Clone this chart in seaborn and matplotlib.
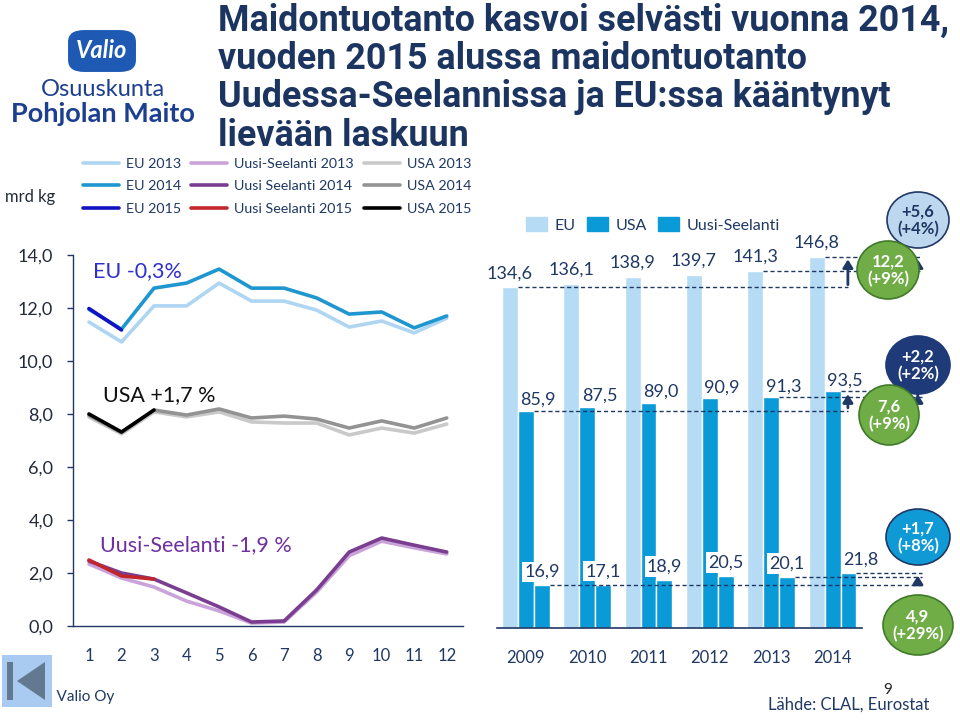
import pandas as pd
import matplotlib
matplotlib.use('Agg')
import matplotlib.pyplot as plt
from matplotlib.patches import Ellipse, Rectangle, FancyBboxPatch, Polygon
from matplotlib.lines import Line2D
from matplotlib.patches import Patch
import seaborn as sns

# Kuukausituotanto, mrd kg
months = list(range(1, 13))
eu_2013 = [11.47, 10.72, 12.08, 12.08, 12.94, 12.26, 12.26, 11.92, 11.28, 11.51, 11.06, 11.62]
eu_2014 = [11.95, 11.20, 12.75, 12.94, 13.47, 12.75, 12.75, 12.38, 11.77, 11.85, 11.25, 11.70]
eu_2015 = [11.98, 11.17]
nz_2013 = [2.34, 1.81, 1.47, 0.94, 0.57, 0.11, 0.15, 1.28, 2.65, 3.20, 2.95, 2.72]
nz_2014 = [2.45, 2.00, 1.77, 1.25, 0.72, 0.15, 0.19, 1.36, 2.79, 3.32, 3.05, 2.79]
nz_2015 = [2.49, 1.89, 1.77]
usa_2013 = [7.89, 7.25, 8.08, 7.89, 8.08, 7.70, 7.66, 7.66, 7.21, 7.47, 7.28, 7.62]
usa_2014 = [7.95, 7.30, 8.15, 7.96, 8.19, 7.85, 7.92, 7.81, 7.47, 7.74, 7.47, 7.85]
usa_2015 = [8.00, 7.32, 8.15]

# Vuosituotanto, mrd kg
years = ['2009', '2010', '2011', '2012', '2013', '2014']
eu_prod = [134.6, 136.1, 138.9, 139.7, 141.3, 146.8]
usa_prod = [85.9, 87.5, 89.0, 90.9, 91.3, 93.5]
nz_prod = [16.9, 17.1, 18.9, 20.5, 20.1, 21.8]

NAVY = '#1f3864'

sns.set_theme(style='white')
plt.rcParams['font.family'] = ['Lato', 'DejaVu Sans']
plt.rcParams['axes.edgecolor'] = NAVY


def fx(x):
    return x / 960


def fy(y):
    return 1 - y / 720


fig = plt.figure(figsize=(9.6, 7.2), dpi=100)

# --- vasen kuva: kuukausittain ---
ax = fig.add_axes([fx(72.7), fy(626), (463 - 72.7) / 960, (626 - 255) / 720])
series = [
    ('EU 2013', eu_2013, '#aed6f3'),
    ('EU 2014', eu_2014, '#1e96cf'),
    ('EU 2015', eu_2015, '#1212c4'),
    ('Uusi-Seelanti 2013', nz_2013, '#c9a3d9'),
    ('Uusi Seelanti 2014', nz_2014, '#7a3d8f'),
    ('Uusi Seelanti 2015', nz_2015, '#c0262c'),
    ('USA 2013', usa_2013, '#c9c9c9'),
    ('USA 2014', usa_2014, '#939393'),
    ('USA 2015', usa_2015, '#000000'),
]
# piirretään vanhin vuosi ensin
for year in ['2013', '2014', '2015']:
    for name, vals, col in series:
        if name.endswith(year):
            sns.lineplot(x=months[:len(vals)], y=vals, color=col, lw=2.6, ax=ax)

ax.set_xlim(0.5, 12.5)
ax.set_ylim(0, 14)
ax.set_yticks([0, 2, 4, 6, 8, 10, 12, 14])
ax.set_yticklabels([f'{v:.1f}'.replace('.', ',') for v in range(0, 16, 2)])
ax.set_xticks(months)
ax.tick_params(axis='x', length=0, pad=16, labelsize=12, labelcolor=NAVY)
ax.tick_params(axis='y', length=4, width=1, color=NAVY, direction='out', left=True,
               pad=10, labelsize=13, labelcolor='#222a3a')
for s in ['top', 'right']:
    ax.spines[s].set_visible(False)
ax.spines['left'].set_linewidth(1)
ax.spines['bottom'].set_linewidth(1)
ax.set_xlabel('')
ax.set_ylabel('')

ax.text(1.12, 13.4, 'EU -0,3%', color='#2f2fcc', fontsize=15.5, va='center')
ax.text(1.43, 8.7, 'USA +1,7 %', color='#111111', fontsize=15.5, va='center')
ax.text(1.34, 3.05, 'Uusi-Seelanti -1,9 %', color='#7030a0', fontsize=15.5, va='center')

handles = [Line2D([], [], color=c, lw=2.6) for _, _, c in series]
fig.legend(handles, [n for n, _, _ in series], ncol=3, loc='upper left',
           bbox_to_anchor=(fx(83), fy(158)), frameon=False, fontsize=10.3,
           labelcolor=NAVY, handlelength=2.5, handletextpad=0.5,
           columnspacing=0.7, labelspacing=0.72, borderpad=0, borderaxespad=0)
fig.text(fx(5), fy(197), 'mrd kg', fontsize=12, color='#222a3a', va='center')

# --- oikea kuva: vuosittain ---
axr = fig.add_axes([fx(497), fy(628), (862 - 497) / 960, 150 * 2.53 / 720])
df = pd.DataFrame({
    'vuosi': years * 3,
    'alue': ['EU'] * 6 + ['USA'] * 6 + ['Uusi-Seelanti'] * 6,
    'tuotanto': eu_prod + usa_prod + nz_prod,
})
pal = {'EU': '#b5dbf5', 'USA': '#0b9ad8', 'Uusi-Seelanti': '#0b9ad8'}
order = ['EU', 'USA', 'Uusi-Seelanti']
sns.barplot(data=df, x='vuosi', y='tuotanto', hue='alue', hue_order=order,
            palette=pal, width=0.78, saturation=1, legend=False, ax=axr)
axr.set_xlim(-0.47, 5.48)
axr.set_ylim(0, 150)
axr.set_yticks([])
axr.set_xlabel('')
axr.set_ylabel('')
for s in ['top', 'right', 'left']:
    axr.spines[s].set_visible(False)
axr.spines['bottom'].set_linewidth(1.2)
axr.tick_params(axis='x', length=0, pad=16, labelsize=12, labelcolor=NAVY)

bw = 0.78 / 3
for i in range(len(years)):
    axr.annotate(f'{eu_prod[i]:.1f}'.replace('.', ','), (i - bw, eu_prod[i]),
                 xytext=(0, 4), textcoords='offset points', ha='center', va='bottom',
                 fontsize=13, color=NAVY)
    axr.annotate(f'{usa_prod[i]:.1f}'.replace('.', ','), (i + 0.2, usa_prod[i]),
                 xytext=(0, 2), textcoords='offset points', ha='center', va='bottom',
                 fontsize=13, color=NAVY)
    shift = 0.2 if i == len(years) - 1 else 0
    axr.annotate(f'{nz_prod[i]:.1f}'.replace('.', ','), (i + bw + shift, nz_prod[i]),
                 xytext=(0, 4), textcoords='offset points', ha='center', va='bottom',
                 fontsize=13, color=NAVY,
                 bbox=dict(boxstyle='square,pad=0.12', fc='white', ec='none'))

# katkoviivat ja nuolet
x_arrow1, x_arrow2, x_end = 5.25, 6.39, 6.46
dash = dict(color=NAVY, lw=1, ls=(0, (3, 2)), clip_on=False)
for vals, off in [(eu_prod, -bw), (usa_prod, 0), (nz_prod, bw)]:
    right = off + bw / 2
    if vals is nz_prod:
        axr.plot([right, x_end], [vals[0]] * 2, **dash)
    else:
        axr.plot([right, x_arrow1], [vals[0]] * 2, **dash)
    axr.plot([4 + right, x_end], [vals[4]] * 2, **dash)
    axr.plot([5 + right, x_end], [vals[5]] * 2, **dash)
arrow = dict(arrowstyle='-|>,head_width=0.25,head_length=0.4', color=NAVY, lw=2)
for vals in [eu_prod, usa_prod]:
    axr.annotate('', xy=(x_arrow1, vals[5]), xytext=(x_arrow1, vals[0]),
                 arrowprops=arrow, annotation_clip=False)
    axr.annotate('', xy=(x_arrow2, vals[5]), xytext=(x_arrow2, vals[4]),
                 arrowprops=arrow, annotation_clip=False)
axr.annotate('', xy=(x_arrow2, nz_prod[5]), xytext=(x_arrow2, nz_prod[0]),
             arrowprops=arrow, annotation_clip=False)

bar_handles = [Patch(color=pal[k]) for k in order]
fig.legend(bar_handles, order, ncol=3, loc='upper left', bbox_to_anchor=(fx(526), fy(217)),
           frameon=False, fontsize=11.5, labelcolor=NAVY, handlelength=1.3,
           handleheight=1.0, handletextpad=0.5, columnspacing=0.7,
           borderpad=0, borderaxespad=0)

# muutospallot
balls = [
    (918, 220, 62, 56, '#bdd7ee', NAVY, '+5,6\n(+4%)', NAVY),
    (888, 270, 62, 58, '#70ad47', '#3f7a2a', '12,2\n(+9%)', 'white'),
    (918, 365, 64, 58, '#1f3a78', '#1f3a78', '+2,2\n(+2%)', 'white'),
    (889, 415, 60, 60, '#70ad47', '#3f7a2a', '7,6\n(+9%)', 'white'),
    (918, 537, 64, 56, '#0f9ad6', NAVY, '+1,7\n(+8%)', 'white'),
    (918, 625, 70, 60, '#70ad47', '#3f7a2a', '4,9\n(+29%)', 'white'),
]
for cx, cy, w, h, fc, ec, txt, tc in balls:
    fig.add_artist(Ellipse((fx(cx), fy(cy)), w / 960, h / 720, transform=fig.transFigure,
                           fc=fc, ec=ec, lw=1.2, zorder=5))
    fig.text(fx(cx), fy(cy), txt, ha='center', va='center', color=tc, fontsize=12,
             fontweight='bold', linespacing=1.1, zorder=6)

# otsikko
fig.text(fx(218), fy(3), 'Maidontuotanto kasvoi selvästi vuonna 2014,\n'
         'vuoden 2015 alussa maidontuotanto\nUudessa-Seelannissa ja EU:ssa kääntynyt\n'
         'lievään laskuun', ha='left', va='top', fontsize=25.8, fontweight='bold',
         color='#1c3560', linespacing=1.08, family=['Roboto', 'DejaVu Sans'])

# logo
fig.add_artist(FancyBboxPatch((fx(67), fy(73)), 70 / 960, 44 / 720,
                              boxstyle='round,pad=0,rounding_size=0.018',
                              transform=fig.transFigure, fc='#1e5ab4', ec='#ffffff', lw=1.5))
fig.text(fx(102), fy(51), 'Valio', ha='center', va='center', color='white', fontsize=17,
         fontweight='bold', style='italic')
fig.text(fx(103), fy(90), 'Osuuskunta', ha='center', va='center', color='#1d3f8f', fontsize=17)
fig.text(fx(103), fy(114), 'Pohjolan Maito', ha='center', va='center', color='#1d3f8f',
         fontsize=19.5, fontweight='bold')

# alaosa
fig.text(fx(40), fy(697), '© Valio Oy', ha='left', va='center', color=NAVY, fontsize=11)
fig.add_artist(Rectangle((fx(2), fy(707)), 50 / 960, 52 / 720, transform=fig.transFigure,
                         fc='#a9cbf2', ec='none', zorder=5))
fig.add_artist(Rectangle((fx(7), fy(700)), 6 / 960, 38 / 720, transform=fig.transFigure,
                         fc='#62798f', ec='none', zorder=6))
fig.add_artist(Polygon([(fx(17), fy(681)), (fx(45), fy(662)), (fx(45), fy(700))],
                       closed=True, transform=fig.transFigure, fc='#62798f', ec='none', zorder=6))
fig.text(fx(768), fy(705), 'Lähde: CLAL, Eurostat', ha='left', va='center', color=NAVY,
         fontsize=12)
fig.text(fx(888), fy(690), '9', ha='center', va='center', color='#222222', fontsize=11)

fig.savefig('out.png', dpi=100)
